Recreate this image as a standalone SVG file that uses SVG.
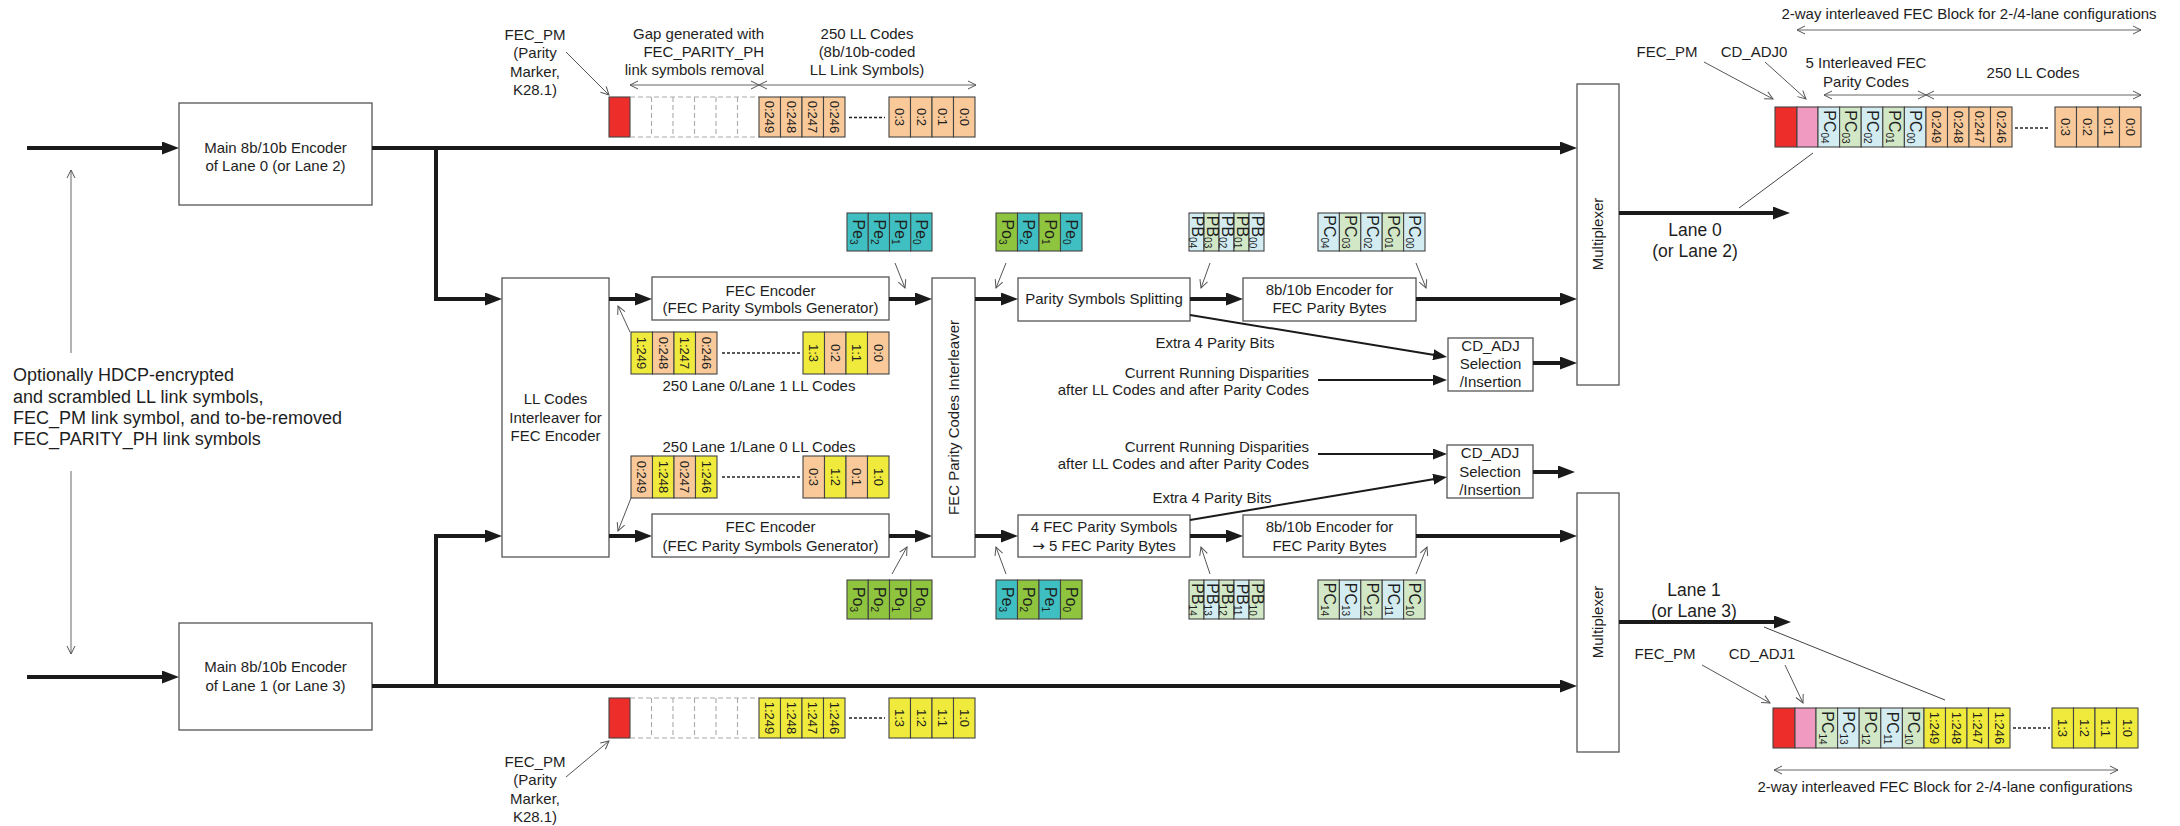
<svg xmlns="http://www.w3.org/2000/svg" width="2180" height="826" viewBox="0 0 2180 826">
<style>
text{font-family:"Liberation Sans",Arial,sans-serif;fill:#1e1e1e}
.t{font-size:15px}
.tm{font-size:15px;text-anchor:middle}
.te{font-size:15px;text-anchor:end}
.big{font-size:18px}
.lane{font-size:17.5px;text-anchor:middle}
.ct{font-size:13px;text-anchor:middle}
.pt{font-size:16px;text-anchor:middle}
.box{fill:#fff;stroke:#555;stroke-width:1.3}
.c{stroke:#444;stroke-width:1.1}
.red{fill:#ec2d2a}.pink{fill:#f19ac1}.or{fill:#f9c99a}.ye{fill:#f0ea3c}
.tl{fill:#3fbfc1}.gr{fill:#8ec43e}.lb{fill:#d3ecf2}.lg{fill:#d1e7c6}
.dash{fill:none;stroke:#aaa;stroke-width:1.1;stroke-dasharray:5 3}
.dots{stroke:#222;stroke-width:1.5;stroke-dasharray:3 2}
.thick{fill:none;stroke:#1a1a1a;stroke-width:4;marker-end:url(#ah)}
.med{fill:none;stroke:#1a1a1a;stroke-width:2;marker-end:url(#am)}
.thin{fill:none;stroke:#444;stroke-width:1}
.lead{fill:none;stroke:#555;stroke-width:1;marker-end:url(#ao)}
.dim{fill:none;stroke:#666;stroke-width:1;marker-start:url(#ao);marker-end:url(#ao)}
</style>
<defs>
<marker id="ah" viewBox="0 0 17 13" refX="7" refY="6.5" markerWidth="17" markerHeight="13" markerUnits="userSpaceOnUse" orient="auto"><path d="M0,0 L17,6.5 L0,13 z" fill="#1a1a1a"/></marker>
<marker id="am" viewBox="0 0 14 11" refX="6" refY="5.5" markerWidth="14" markerHeight="11" markerUnits="userSpaceOnUse" orient="auto"><path d="M0,0 L14,5.5 L0,11 z" fill="#1a1a1a"/></marker>
<marker id="ao" viewBox="0 0 10 10" refX="9" refY="5" markerWidth="10" markerHeight="10" markerUnits="userSpaceOnUse" orient="auto-start-reverse"><path d="M1,1 L9,5 L1,9" fill="none" stroke="#555" stroke-width="1"/></marker>
</defs>
<rect width="2180" height="826" fill="#fff"/>

<!-- Left description -->
<g id="input-text">
<text class="big" x="13" y="381">Optionally HDCP-encrypted</text>
<text class="big" x="13" y="403">and scrambled LL link symbols,</text>
<text class="big" x="13" y="424">FEC_PM link symbol, and to-be-removed</text>
<text class="big" x="13" y="445">FEC_PARITY_PH link symbols</text>
</g>

<!-- Boxes -->
<g id="main-enc-0"><rect class="box" x="179" y="103" width="193" height="102"/>
<text class="tm" x="275.5" y="153">Main 8b/10b Encoder</text><text class="tm" x="275.5" y="171">of Lane 0 (or Lane 2)</text></g>
<g id="main-enc-1"><rect class="box" x="179" y="623" width="193" height="107"/>
<text class="tm" x="275.5" y="672">Main 8b/10b Encoder</text><text class="tm" x="275.5" y="691">of Lane 1 (or Lane 3)</text></g>
<g id="ll-interleaver"><rect class="box" x="502" y="278" width="107" height="279"/>
<text class="tm" x="555.5" y="404">LL Codes</text><text class="tm" x="555.5" y="423">Interleaver for</text><text class="tm" x="555.5" y="441">FEC Encoder</text></g>
<g id="fec-enc-0"><rect class="box" x="652" y="277" width="237" height="43"/>
<text class="tm" x="770.5" y="296">FEC Encoder</text><text class="tm" x="770.5" y="313">(FEC Parity Symbols Generator)</text></g>
<g id="fec-enc-1"><rect class="box" x="652" y="514" width="237" height="43"/>
<text class="tm" x="770.5" y="532">FEC Encoder</text><text class="tm" x="770.5" y="551">(FEC Parity Symbols Generator)</text></g>
<g id="parity-interleaver"><rect class="box" x="932" y="278" width="43" height="279"/>
<text class="tm" transform="translate(959,417.5) rotate(-90)">FEC Parity Codes Interleaver</text></g>
<g id="parity-split"><rect class="box" x="1018" y="278" width="172" height="43"/>
<text class="tm" x="1104" y="304">Parity Symbols Splitting</text></g>
<g id="parity-4to5"><rect class="box" x="1018" y="515" width="172" height="42"/>
<text class="tm" x="1104" y="532">4 FEC Parity Symbols</text><text class="tm" x="1104" y="551"><tspan font-family="DejaVu Sans" font-size="15">→</tspan> 5 FEC Parity Bytes</text></g>
<g id="enc-parity-0"><rect class="box" x="1243" y="278" width="173" height="43"/>
<text class="tm" x="1329.5" y="295">8b/10b Encoder for</text><text class="tm" x="1329.5" y="313">FEC Parity Bytes</text></g>
<g id="enc-parity-1"><rect class="box" x="1243" y="515" width="173" height="42"/>
<text class="tm" x="1329.5" y="532">8b/10b Encoder for</text><text class="tm" x="1329.5" y="551">FEC Parity Bytes</text></g>
<g id="cdadj-0"><rect class="box" x="1448" y="338" width="85" height="53"/>
<text class="tm" x="1490.5" y="351">CD_ADJ</text><text class="tm" x="1490.5" y="369">Selection</text><text class="tm" x="1490.5" y="387">/Insertion</text></g>
<g id="cdadj-1"><rect class="box" x="1447" y="445" width="86" height="53"/>
<text class="tm" x="1490" y="458">CD_ADJ</text><text class="tm" x="1490" y="477">Selection</text><text class="tm" x="1490" y="495">/Insertion</text></g>
<g id="mux-0"><rect class="box" x="1577" y="84" width="42" height="301"/>
<text class="tm" transform="translate(1603,234) rotate(-90)">Multiplexer</text></g>
<g id="mux-1"><rect class="box" x="1577" y="493" width="42" height="259"/>
<text class="tm" transform="translate(1603,622) rotate(-90)">Multiplexer</text></g>

<!-- Connectors -->
<g id="connectors">
<path class="thick" d="M27,148 H169"/>
<path class="thick" d="M27,677 H169"/>
<path class="thick" d="M372,148 H1567"/>
<path class="thick" d="M436,148 V299 H492"/>
<path class="thick" d="M372,686 H1567"/>
<path class="thick" d="M436,686 V536 H492"/>
<path class="thick" d="M609,299 H642"/>
<path class="thick" d="M609,536 H642"/>
<path class="thick" d="M889,299 H922"/>
<path class="thick" d="M889,536 H922"/>
<path class="thick" d="M975,299 H1008"/>
<path class="thick" d="M975,536 H1008"/>
<path class="thick" d="M1190,299 H1233"/>
<path class="thick" d="M1190,536 H1233"/>
<path class="thick" d="M1416,299 H1567"/>
<path class="thick" d="M1416,536 H1567"/>
<path class="thick" d="M1533,363 H1567"/>
<path class="thick" d="M1533,472 H1565"/>
<path class="thick" d="M1619,213 H1780"/>
<path class="thick" d="M1619,622 H1781"/>
<path class="med" d="M1190,315 L1439.1,355.7"/>
<path class="med" d="M1318,380 H1439"/>
<path class="med" d="M1318,454 H1439"/>
<path class="med" d="M1190,520 L1439.1,478.3"/>
<path class="thin" d="M1739,208 L1813,153"/>
<path class="thin" d="M1764,627 L1945,700"/>
<path class="lead" d="M566,52 L609,95"/>
<path class="lead" d="M566,777 L609,741"/>
<path class="lead" d="M1704,62 L1773,99"/>
<path class="lead" d="M1765,62 L1806,99"/>
<path class="lead" d="M1702,665 L1770,703"/>
<path class="lead" d="M1785,665 L1803,703"/>
<path class="lead" d="M630,332 L618,306"/>
<path class="lead" d="M631,498 L618,531"/>
<path class="lead" d="M895,263 L905,288"/>
<path class="lead" d="M1006,263 L996,288"/>
<path class="lead" d="M1210,263 L1201,288"/>
<path class="lead" d="M1416,263 L1426,288"/>
<path class="lead" d="M892,574 L907,547"/>
<path class="lead" d="M1006,574 L996,547"/>
<path class="lead" d="M1210,574 L1201,547"/>
<path class="lead" d="M1416,574 L1427,547"/>
<path class="dim" d="M630,85 H759"/>
<path class="dim" d="M759,85 H976"/>
<path class="dim" d="M1797,30 H2141"/>
<path class="dim" d="M1824,95 H1926"/>
<path class="dim" d="M1926,95 H2141"/>
<path class="dim" d="M1774,770 H2118"/>
<path class="thin" d="M71,170 V353" style="stroke:#666;marker-start:url(#ao)"/>
<path class="thin" d="M71,471 V654" style="stroke:#666;marker-end:url(#ao)"/>
</g>

<!-- Labels -->
<g id="labels">
<text class="tm" x="535" y="40">FEC_PM</text><text class="tm" x="535" y="58">(Parity</text><text class="tm" x="535" y="77">Marker,</text><text class="tm" x="535" y="95">K28.1)</text>
<text class="te" x="764" y="39">Gap generated with</text><text class="te" x="764" y="57">FEC_PARITY_PH</text><text class="te" x="764" y="75">link symbols removal</text>
<text class="tm" x="867" y="39">250 LL Codes</text><text class="tm" x="867" y="57">(8b/10b-coded</text><text class="tm" x="867" y="75">LL Link Symbols)</text>
<text class="tm" x="535" y="767">FEC_PM</text><text class="tm" x="535" y="785">(Parity</text><text class="tm" x="535" y="804">Marker,</text><text class="tm" x="535" y="822">K28.1)</text>
<text class="tm" x="759" y="391">250 Lane 0/Lane 1 LL Codes</text>
<text class="tm" x="759" y="452">250 Lane 1/Lane 0 LL Codes</text>
<text class="tm" x="1215" y="348">Extra 4 Parity Bits</text>
<text class="te" x="1309" y="378">Current Running Disparities</text><text class="te" x="1309" y="395">after LL Codes and after Parity Codes</text>
<text class="te" x="1309" y="452">Current Running Disparities</text><text class="te" x="1309" y="469">after LL Codes and after Parity Codes</text>
<text class="tm" x="1212" y="503">Extra 4 Parity Bits</text>
<text class="lane" x="1695" y="236">Lane 0</text><text class="lane" x="1695" y="257">(or Lane 2)</text>
<text class="lane" x="1694" y="596">Lane 1</text><text class="lane" x="1694" y="617">(or Lane 3)</text>
<text class="tm" x="1969" y="19">2-way interleaved FEC Block for 2-/4-lane configurations</text>
<text class="tm" x="1667" y="57">FEC_PM</text><text class="tm" x="1754" y="57">CD_ADJ0</text>
<text class="tm" x="1866" y="68">5 Interleaved FEC</text><text class="tm" x="1866" y="87">Parity Codes</text>
<text class="tm" x="2033" y="78">250 LL Codes</text>
<text class="tm" x="1665" y="659">FEC_PM</text><text class="tm" x="1762" y="659">CD_ADJ1</text>
<text class="tm" x="1945" y="792">2-way interleaved FEC Block for 2-/4-lane configurations</text>
</g>

<!-- Top-left lane 0 strip -->
<g id="strip-lane0-in">
<rect class="c red" x="609" y="97" width="21" height="40"/>
<path class="dash" d="M630,97 H759 M630,137 H759 M651.5,97 V137 M673,97 V137 M694.5,97 V137 M716,97 V137 M737.5,97 V137"/>
<rect class="c or" x="759" y="97" width="21.5" height="40"/><rect class="c or" x="780.5" y="97" width="21.5" height="40"/><rect class="c or" x="802" y="97" width="21.5" height="40"/><rect class="c or" x="823.5" y="97" width="21.5" height="40"/>
<text class="ct" transform="translate(765.2,117) rotate(90)">0:249</text><text class="ct" transform="translate(786.7,117) rotate(90)">0:248</text><text class="ct" transform="translate(808.2,117) rotate(90)">0:247</text><text class="ct" transform="translate(829.7,117) rotate(90)">0:246</text>
<path class="dots" d="M849,117.5 H885"/>
<rect class="c or" x="889" y="97" width="21.5" height="40"/><rect class="c or" x="910.5" y="97" width="21.5" height="40"/><rect class="c or" x="932" y="97" width="21.5" height="40"/><rect class="c or" x="953.5" y="97" width="21.5" height="40"/>
<text class="ct" transform="translate(895.2,117) rotate(90)">0:3</text><text class="ct" transform="translate(916.7,117) rotate(90)">0:2</text><text class="ct" transform="translate(938.2,117) rotate(90)">0:1</text><text class="ct" transform="translate(959.7,117) rotate(90)">0:0</text>
</g>

<!-- Bottom-left lane 1 strip -->
<g id="strip-lane1-in">
<rect class="c red" x="609" y="698" width="21" height="40"/>
<path class="dash" d="M630,698 H759 M630,738 H759 M651.5,698 V738 M673,698 V738 M694.5,698 V738 M716,698 V738 M737.5,698 V738"/>
<rect class="c ye" x="759" y="698" width="21.5" height="40"/><rect class="c ye" x="780.5" y="698" width="21.5" height="40"/><rect class="c ye" x="802" y="698" width="21.5" height="40"/><rect class="c ye" x="823.5" y="698" width="21.5" height="40"/>
<text class="ct" transform="translate(765.2,718) rotate(90)">1:249</text><text class="ct" transform="translate(786.7,718) rotate(90)">1:248</text><text class="ct" transform="translate(808.2,718) rotate(90)">1:247</text><text class="ct" transform="translate(829.7,718) rotate(90)">1:246</text>
<path class="dots" d="M849,718 H885"/>
<rect class="c ye" x="889" y="698" width="21.5" height="40"/><rect class="c ye" x="910.5" y="698" width="21.5" height="40"/><rect class="c ye" x="932" y="698" width="21.5" height="40"/><rect class="c ye" x="953.5" y="698" width="21.5" height="40"/>
<text class="ct" transform="translate(895.2,718) rotate(90)">1:3</text><text class="ct" transform="translate(916.7,718) rotate(90)">1:2</text><text class="ct" transform="translate(938.2,718) rotate(90)">1:1</text><text class="ct" transform="translate(959.7,718) rotate(90)">1:0</text>
</g>

<!-- LL cells upper -->
<g id="ll-cells-0">
<rect class="c ye" x="631" y="332" width="21.5" height="42"/><rect class="c or" x="652.5" y="332" width="21.5" height="42"/><rect class="c ye" x="674" y="332" width="21.5" height="42"/><rect class="c or" x="695.5" y="332" width="21.5" height="42"/>
<text class="ct" transform="translate(637.2,353) rotate(90)">1:249</text><text class="ct" transform="translate(658.7,353) rotate(90)">0:248</text><text class="ct" transform="translate(680.2,353) rotate(90)">1:247</text><text class="ct" transform="translate(701.7,353) rotate(90)">0:246</text>
<path class="dots" d="M722,353 H800"/>
<rect class="c ye" x="803" y="332" width="21.5" height="42"/><rect class="c or" x="824.5" y="332" width="21.5" height="42"/><rect class="c ye" x="846" y="332" width="21.5" height="42"/><rect class="c or" x="867.5" y="332" width="21.5" height="42"/>
<text class="ct" transform="translate(809.2,353) rotate(90)">1:3</text><text class="ct" transform="translate(830.7,353) rotate(90)">0:2</text><text class="ct" transform="translate(852.2,353) rotate(90)">1:1</text><text class="ct" transform="translate(873.7,353) rotate(90)">0:0</text>
</g>
<!-- LL cells lower -->
<g id="ll-cells-1">
<rect class="c or" x="631" y="456" width="21.5" height="42"/><rect class="c ye" x="652.5" y="456" width="21.5" height="42"/><rect class="c or" x="674" y="456" width="21.5" height="42"/><rect class="c ye" x="695.5" y="456" width="21.5" height="42"/>
<text class="ct" transform="translate(637.2,477) rotate(90)">0:249</text><text class="ct" transform="translate(658.7,477) rotate(90)">1:248</text><text class="ct" transform="translate(680.2,477) rotate(90)">0:247</text><text class="ct" transform="translate(701.7,477) rotate(90)">1:246</text>
<path class="dots" d="M722,477 H800"/>
<rect class="c or" x="803" y="456" width="21.5" height="42"/><rect class="c ye" x="824.5" y="456" width="21.5" height="42"/><rect class="c or" x="846" y="456" width="21.5" height="42"/><rect class="c ye" x="867.5" y="456" width="21.5" height="42"/>
<text class="ct" transform="translate(809.2,477) rotate(90)">0:3</text><text class="ct" transform="translate(830.7,477) rotate(90)">1:2</text><text class="ct" transform="translate(852.2,477) rotate(90)">0:1</text><text class="ct" transform="translate(873.7,477) rotate(90)">1:0</text>
</g>

<!-- Parity cells top row -->
<g id="parity-cells-0">
<rect class="c tl" x="847" y="213" width="21.25" height="38"/><rect class="c tl" x="868.25" y="213" width="21.25" height="38"/><rect class="c tl" x="889.5" y="213" width="21.25" height="38"/><rect class="c tl" x="910.75" y="213" width="21.25" height="38"/>
<text class="pt" transform="translate(852.6,232) rotate(90)">Pe<tspan font-size="10" dy="3">3</tspan></text><text class="pt" transform="translate(873.9,232) rotate(90)">Pe<tspan font-size="10" dy="3">2</tspan></text><text class="pt" transform="translate(895.1,232) rotate(90)">Pe<tspan font-size="10" dy="3">1</tspan></text><text class="pt" transform="translate(916.4,232) rotate(90)">Pe<tspan font-size="10" dy="3">0</tspan></text>
<rect class="c gr" x="996" y="213" width="21.5" height="38"/><rect class="c tl" x="1017.5" y="213" width="21.5" height="38"/><rect class="c gr" x="1039" y="213" width="21.5" height="38"/><rect class="c tl" x="1060.5" y="213" width="21.5" height="38"/>
<text class="pt" transform="translate(1001.75,232) rotate(90)">Po<tspan font-size="10" dy="3">3</tspan></text><text class="pt" transform="translate(1023.25,232) rotate(90)">Pe<tspan font-size="10" dy="3">2</tspan></text><text class="pt" transform="translate(1044.75,232) rotate(90)">Po<tspan font-size="10" dy="3">1</tspan></text><text class="pt" transform="translate(1066.25,232) rotate(90)">Pe<tspan font-size="10" dy="3">0</tspan></text>
<rect class="c lb" x="1189" y="213" width="15" height="38"/><rect class="c lg" x="1204" y="213" width="15" height="38"/><rect class="c lb" x="1219" y="213" width="15" height="38"/><rect class="c lg" x="1234" y="213" width="15" height="38"/><rect class="c lb" x="1249" y="213" width="15" height="38"/>
<text class="pt" transform="translate(1192,232) rotate(90)">PB<tspan font-size="10" dy="3">04</tspan></text><text class="pt" transform="translate(1207,232) rotate(90)">PB<tspan font-size="10" dy="3">03</tspan></text><text class="pt" transform="translate(1222,232) rotate(90)">PB<tspan font-size="10" dy="3">02</tspan></text><text class="pt" transform="translate(1237,232) rotate(90)">PB<tspan font-size="10" dy="3">01</tspan></text><text class="pt" transform="translate(1252,232) rotate(90)">PB<tspan font-size="10" dy="3">00</tspan></text>
<rect class="c lb" x="1318" y="213" width="21.4" height="38"/><rect class="c lg" x="1339.4" y="213" width="21.4" height="38"/><rect class="c lb" x="1360.8" y="213" width="21.4" height="38"/><rect class="c lg" x="1382.2" y="213" width="21.4" height="38"/><rect class="c lb" x="1403.6" y="213" width="21.4" height="38"/>
<text class="pt" transform="translate(1323.7,232) rotate(90)">PC<tspan font-size="10" dy="3">04</tspan></text><text class="pt" transform="translate(1345.1,232) rotate(90)">PC<tspan font-size="10" dy="3">03</tspan></text><text class="pt" transform="translate(1366.5,232) rotate(90)">PC<tspan font-size="10" dy="3">02</tspan></text><text class="pt" transform="translate(1387.9,232) rotate(90)">PC<tspan font-size="10" dy="3">01</tspan></text><text class="pt" transform="translate(1409.3,232) rotate(90)">PC<tspan font-size="10" dy="3">00</tspan></text>
</g>

<!-- Parity cells bottom row -->
<g id="parity-cells-1">
<rect class="c gr" x="847" y="580" width="21.25" height="39"/><rect class="c gr" x="868.25" y="580" width="21.25" height="39"/><rect class="c gr" x="889.5" y="580" width="21.25" height="39"/><rect class="c gr" x="910.75" y="580" width="21.25" height="39"/>
<text class="pt" transform="translate(852.6,599.5) rotate(90)">Po<tspan font-size="10" dy="3">3</tspan></text><text class="pt" transform="translate(873.9,599.5) rotate(90)">Po<tspan font-size="10" dy="3">2</tspan></text><text class="pt" transform="translate(895.1,599.5) rotate(90)">Po<tspan font-size="10" dy="3">1</tspan></text><text class="pt" transform="translate(916.4,599.5) rotate(90)">Po<tspan font-size="10" dy="3">0</tspan></text>
<rect class="c tl" x="996" y="580" width="21.5" height="39"/><rect class="c gr" x="1017.5" y="580" width="21.5" height="39"/><rect class="c tl" x="1039" y="580" width="21.5" height="39"/><rect class="c gr" x="1060.5" y="580" width="21.5" height="39"/>
<text class="pt" transform="translate(1001.75,599.5) rotate(90)">Pe<tspan font-size="10" dy="3">3</tspan></text><text class="pt" transform="translate(1023.25,599.5) rotate(90)">Po<tspan font-size="10" dy="3">2</tspan></text><text class="pt" transform="translate(1044.75,599.5) rotate(90)">Pe<tspan font-size="10" dy="3">1</tspan></text><text class="pt" transform="translate(1066.25,599.5) rotate(90)">Po<tspan font-size="10" dy="3">0</tspan></text>
<rect class="c lg" x="1189" y="580" width="15" height="39"/><rect class="c lb" x="1204" y="580" width="15" height="39"/><rect class="c lg" x="1219" y="580" width="15" height="39"/><rect class="c lb" x="1234" y="580" width="15" height="39"/><rect class="c lg" x="1249" y="580" width="15" height="39"/>
<text class="pt" transform="translate(1192,599.5) rotate(90)">PB<tspan font-size="10" dy="3">14</tspan></text><text class="pt" transform="translate(1207,599.5) rotate(90)">PB<tspan font-size="10" dy="3">13</tspan></text><text class="pt" transform="translate(1222,599.5) rotate(90)">PB<tspan font-size="10" dy="3">12</tspan></text><text class="pt" transform="translate(1237,599.5) rotate(90)">PB<tspan font-size="10" dy="3">11</tspan></text><text class="pt" transform="translate(1252,599.5) rotate(90)">PB<tspan font-size="10" dy="3">10</tspan></text>
<rect class="c lg" x="1318" y="580" width="21.4" height="39"/><rect class="c lb" x="1339.4" y="580" width="21.4" height="39"/><rect class="c lg" x="1360.8" y="580" width="21.4" height="39"/><rect class="c lb" x="1382.2" y="580" width="21.4" height="39"/><rect class="c lg" x="1403.6" y="580" width="21.4" height="39"/>
<text class="pt" transform="translate(1323.7,599.5) rotate(90)">PC<tspan font-size="10" dy="3">14</tspan></text><text class="pt" transform="translate(1345.1,599.5) rotate(90)">PC<tspan font-size="10" dy="3">13</tspan></text><text class="pt" transform="translate(1366.5,599.5) rotate(90)">PC<tspan font-size="10" dy="3">12</tspan></text><text class="pt" transform="translate(1387.9,599.5) rotate(90)">PC<tspan font-size="10" dy="3">11</tspan></text><text class="pt" transform="translate(1409.3,599.5) rotate(90)">PC<tspan font-size="10" dy="3">10</tspan></text>
</g>

<!-- Top-right output block lane 0 -->
<g id="strip-lane0-out">
<rect class="c red" x="1775" y="107" width="22" height="40"/><rect class="c pink" x="1797" y="107" width="21" height="40"/>
<rect class="c lb" x="1818" y="107" width="21.6" height="40"/><rect class="c lg" x="1839.6" y="107" width="21.6" height="40"/><rect class="c lb" x="1861.2" y="107" width="21.6" height="40"/><rect class="c lg" x="1882.8" y="107" width="21.6" height="40"/><rect class="c lb" x="1904.4" y="107" width="21.6" height="40"/>
<text class="pt" transform="translate(1823.8,127) rotate(90)">PC<tspan font-size="10" dy="3">04</tspan></text><text class="pt" transform="translate(1845.4,127) rotate(90)">PC<tspan font-size="10" dy="3">03</tspan></text><text class="pt" transform="translate(1867,127) rotate(90)">PC<tspan font-size="10" dy="3">02</tspan></text><text class="pt" transform="translate(1888.6,127) rotate(90)">PC<tspan font-size="10" dy="3">01</tspan></text><text class="pt" transform="translate(1910.2,127) rotate(90)">PC<tspan font-size="10" dy="3">00</tspan></text>
<rect class="c or" x="1926" y="107" width="21.5" height="40"/><rect class="c or" x="1947.5" y="107" width="21.5" height="40"/><rect class="c or" x="1969" y="107" width="21.5" height="40"/><rect class="c or" x="1990.5" y="107" width="21.5" height="40"/>
<text class="ct" transform="translate(1932.2,127) rotate(90)">0:249</text><text class="ct" transform="translate(1953.7,127) rotate(90)">0:248</text><text class="ct" transform="translate(1975.2,127) rotate(90)">0:247</text><text class="ct" transform="translate(1996.7,127) rotate(90)">0:246</text>
<path class="dots" d="M2015,128 H2050"/>
<rect class="c or" x="2055" y="107" width="21.5" height="40"/><rect class="c or" x="2076.5" y="107" width="21.5" height="40"/><rect class="c or" x="2098" y="107" width="21.5" height="40"/><rect class="c or" x="2119.5" y="107" width="21.5" height="40"/>
<text class="ct" transform="translate(2061.2,127) rotate(90)">0:3</text><text class="ct" transform="translate(2082.7,127) rotate(90)">0:2</text><text class="ct" transform="translate(2104.2,127) rotate(90)">0:1</text><text class="ct" transform="translate(2125.7,127) rotate(90)">0:0</text>
</g>

<!-- Bottom-right output block lane 1 -->
<g id="strip-lane1-out">
<rect class="c red" x="1773" y="708" width="22" height="40"/><rect class="c pink" x="1795" y="708" width="21" height="40"/>
<rect class="c lg" x="1816" y="708" width="21.6" height="40"/><rect class="c lb" x="1837.6" y="708" width="21.6" height="40"/><rect class="c lg" x="1859.2" y="708" width="21.6" height="40"/><rect class="c lb" x="1880.8" y="708" width="21.6" height="40"/><rect class="c lg" x="1902.4" y="708" width="21.6" height="40"/>
<text class="pt" transform="translate(1821.8,728) rotate(90)">PC<tspan font-size="10" dy="3">14</tspan></text><text class="pt" transform="translate(1843.4,728) rotate(90)">PC<tspan font-size="10" dy="3">13</tspan></text><text class="pt" transform="translate(1865,728) rotate(90)">PC<tspan font-size="10" dy="3">12</tspan></text><text class="pt" transform="translate(1886.6,728) rotate(90)">PC<tspan font-size="10" dy="3">11</tspan></text><text class="pt" transform="translate(1908.2,728) rotate(90)">PC<tspan font-size="10" dy="3">10</tspan></text>
<rect class="c ye" x="1924" y="708" width="21.5" height="40"/><rect class="c ye" x="1945.5" y="708" width="21.5" height="40"/><rect class="c ye" x="1967" y="708" width="21.5" height="40"/><rect class="c ye" x="1988.5" y="708" width="21.5" height="40"/>
<text class="ct" transform="translate(1930.2,728) rotate(90)">1:249</text><text class="ct" transform="translate(1951.7,728) rotate(90)">1:248</text><text class="ct" transform="translate(1973.2,728) rotate(90)">1:247</text><text class="ct" transform="translate(1994.7,728) rotate(90)">1:246</text>
<path class="dots" d="M2013,728 H2050"/>
<rect class="c ye" x="2052" y="708" width="21.5" height="40"/><rect class="c ye" x="2073.5" y="708" width="21.5" height="40"/><rect class="c ye" x="2095" y="708" width="21.5" height="40"/><rect class="c ye" x="2116.5" y="708" width="21.5" height="40"/>
<text class="ct" transform="translate(2058.2,728) rotate(90)">1:3</text><text class="ct" transform="translate(2079.7,728) rotate(90)">1:2</text><text class="ct" transform="translate(2101.2,728) rotate(90)">1:1</text><text class="ct" transform="translate(2122.7,728) rotate(90)">1:0</text>
</g>
</svg>
